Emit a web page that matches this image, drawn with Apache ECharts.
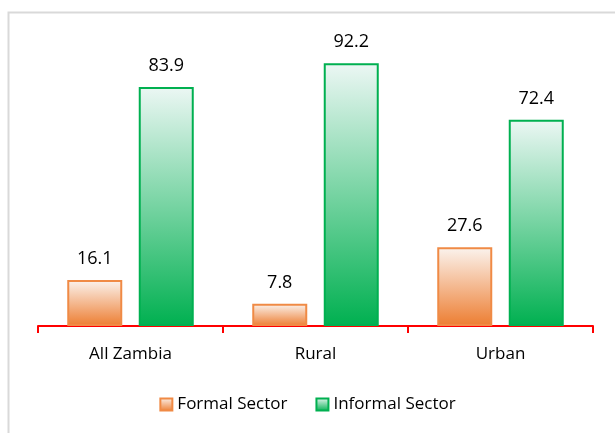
<!DOCTYPE html>
<html>
<head>
<meta charset="utf-8">
<script src="https://cdn.jsdelivr.net/npm/echarts@6/dist/echarts.min.js"></script>
<style>
  html, body { margin: 0; padding: 0; background: #fff; }
  #main { width: 615px; height: 433px; }
</style>
</head>
<body>
<div id="main"></div>
<script>
var categories = ['All Zambia', 'Rural', 'Urban'];
var formalSector = [16.1, 7.8, 27.6];
var informalSector = [83.9, 92.2, 72.4];

// light at the top, full colour at the base
function fade(top, color) {
    return new echarts.graphic.LinearGradient(0, 0, 0, 1, [
        { offset: 0, color: top },
        { offset: 1, color: color }
    ]);
}

var chart = echarts.init(document.getElementById('main'));

var option = {
    animation: false,
    textStyle: { fontFamily: 'Open Sans' },
    graphic: [{
        type: 'rect',
        shape: { x: 8.5, y: 12.5, width: 620, height: 440 },
        style: { fill: 'none', stroke: '#d9d9d9', lineWidth: 2 },
        silent: true
    }],
    legend: {
        bottom: 15,
        left: 'center',
        itemWidth: 12,
        itemHeight: 12,
        itemGap: 28,
        icon: 'rect',
        textStyle: { fontSize: 17, color: '#000', fontFamily: 'Open Sans' },
        data: ['Formal Sector', 'Informal Sector']
    },
    grid: { left: 38, right: 22, top: 41, bottom: 107 },
    xAxis: {
        type: 'category',
        data: categories,
        axisLine: { lineStyle: { color: '#ff0000', width: 2 } },
        axisTick: { show: true, length: 7, lineStyle: { color: '#ff0000', width: 2 } },
        axisLabel: { fontSize: 17, color: '#000', margin: 20 }
    },
    yAxis: {
        type: 'value',
        min: 0,
        max: 100,
        show: false,
        splitLine: { show: false }
    },
    series: [{
        name: 'Formal Sector',
        type: 'bar',
        data: formalSector,
        barWidth: 55,
        barGap: '30%',
        itemStyle: { color: fade('#fbf3ee', '#ed7d31'), borderColor: '#f08a45', borderWidth: 2 },
        label: { show: true, position: 'top', distance: 12, fontSize: 18, color: '#000', formatter: function (p) { return p.value.toFixed(1); } }
    }, {
        name: 'Informal Sector',
        type: 'bar',
        data: informalSector,
        barWidth: 55,
        itemStyle: { color: fade('#ecf7f4', '#00b050'), borderColor: '#00b050', borderWidth: 2 },
        label: { show: true, position: 'top', distance: 12, fontSize: 18, color: '#000', formatter: function (p) { return p.value.toFixed(1); } }
    }]
};

chart.setOption(option);
</script>
</body>
</html>
